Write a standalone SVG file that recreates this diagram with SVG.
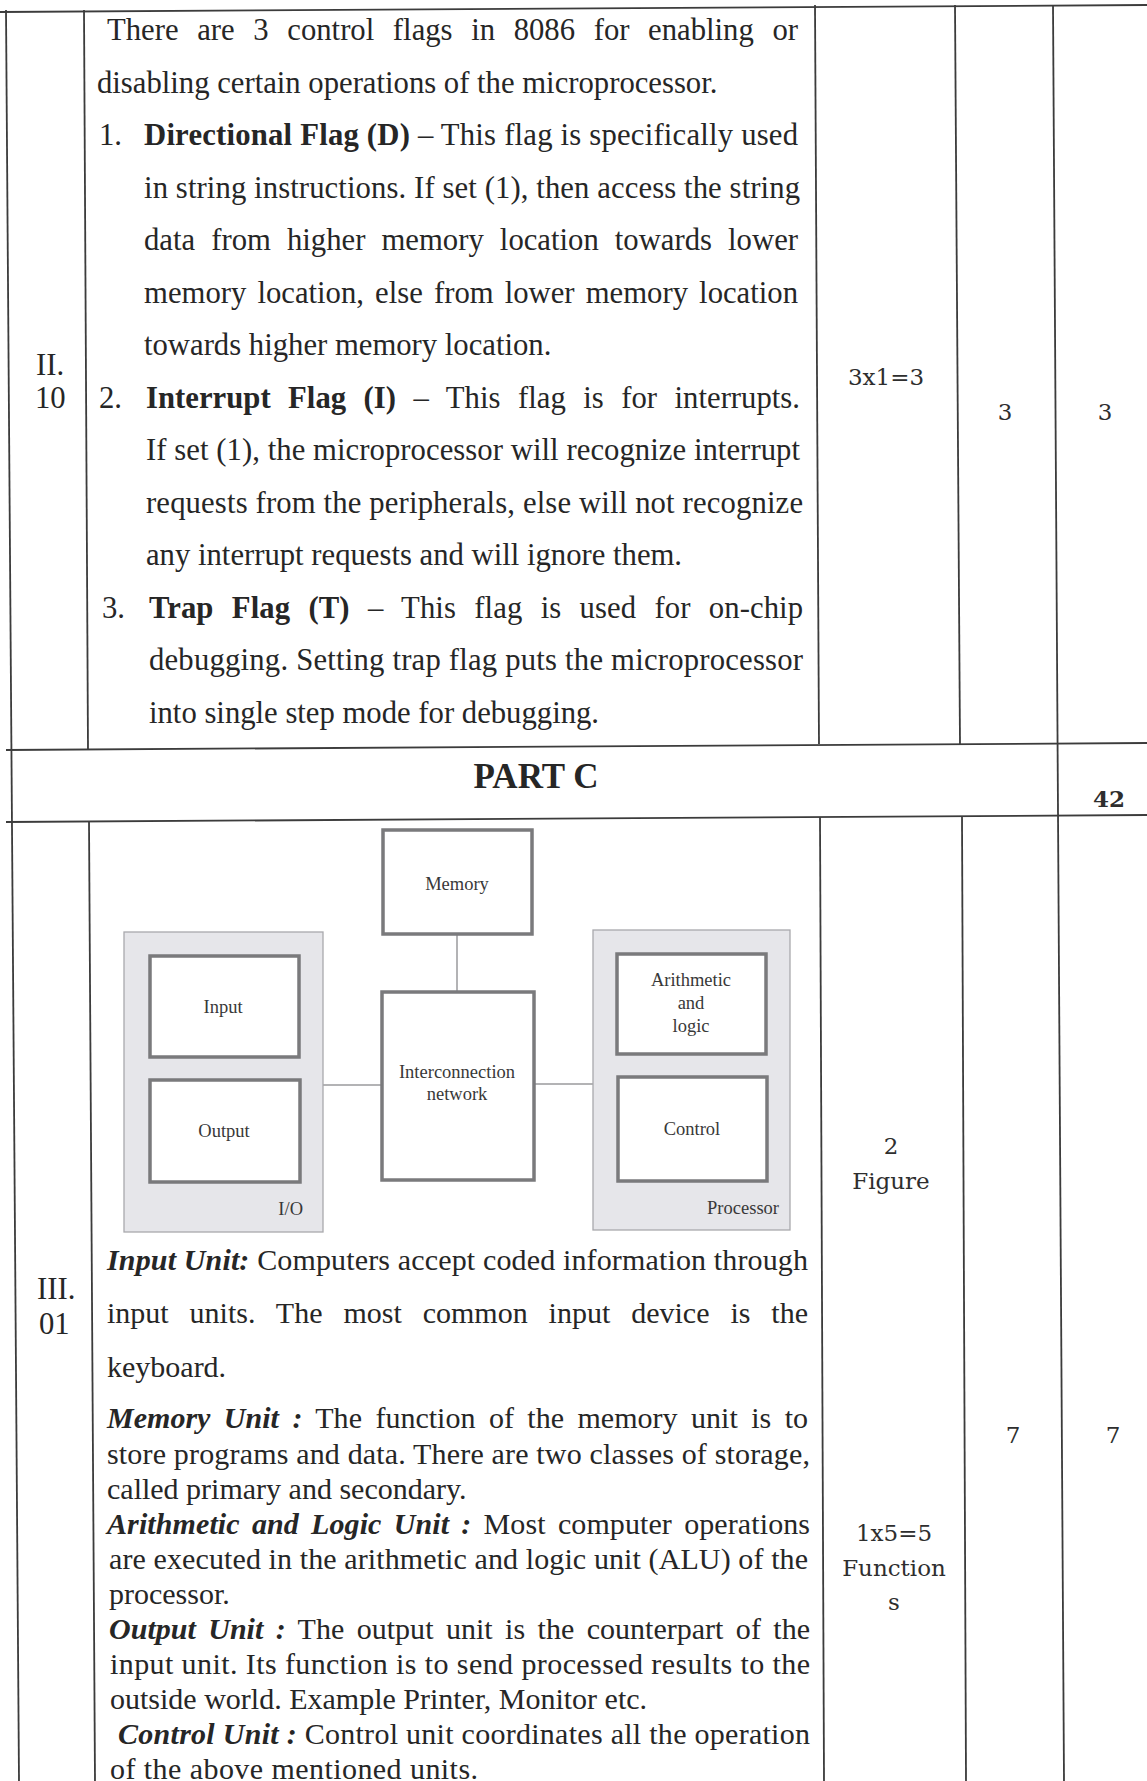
<svg xmlns="http://www.w3.org/2000/svg" width="1147" height="1781" viewBox="0 0 1147 1781">
  <style>
    .t { font-family: "Liberation Serif", "Times New Roman", serif; font-size: 30.7px; fill: #262626; }
    .t2 { font-family: "Liberation Serif", "Times New Roman", serif; font-size: 30px; fill: #262626; }
    .b { font-weight: bold; }
    .bi { font-weight: bold; font-style: italic; }
    .num { font-family: "DejaVu Serif", "Liberation Serif", serif; font-size: 23px; fill: #2e2e2e; text-anchor: middle; }
    .head { font-family: "Liberation Serif", "Times New Roman", serif; font-size: 35px; font-weight: bold; fill: #262626; text-anchor: middle; }
    .grid line { stroke: #3c3c3c; stroke-width: 1.8; }
    .panel { fill: #e6e6ea; stroke: #a9a9ad; stroke-width: 1.3; }
    .box { fill: #ffffff; stroke: #7a7a7c; stroke-width: 3.5; }
    .conn line { stroke: #9a9a9c; stroke-width: 1.5; }
    .dg { font-family: "Liberation Serif", "Times New Roman", serif; font-size: 18.5px; fill: #383838; text-anchor: middle; }
    .lbl { font-family: "Liberation Serif", "Times New Roman", serif; font-size: 18.5px; fill: #383838; text-anchor: end; }
  </style>

  <rect x="0" y="0" width="1147" height="1781" fill="#ffffff"/>

  <!-- table rules (the scanned page sits at a slight tilt) -->
  <g id="table-grid" class="grid">
    <line x1="0" y1="12" x2="1147" y2="5"/>
    <line x1="6" y1="10" x2="19" y2="1781"/>
    <line x1="84" y1="10" x2="88" y2="749"/>
    <line x1="89" y1="821" x2="95" y2="1781"/>
    <line x1="815" y1="5" x2="819" y2="744"/>
    <line x1="820" y1="817" x2="824" y2="1781"/>
    <line x1="955" y1="5" x2="960" y2="744"/>
    <line x1="962" y1="817" x2="966" y2="1781"/>
    <line x1="1053" y1="5" x2="1064" y2="1781"/>
    <line x1="6" y1="750" x2="1147" y2="743"/>
    <line x1="6" y1="822" x2="1147" y2="815"/>
  </g>

  <!-- question II.10 -->
  <g id="row-II10">
    <text class="t" x="36" y="375">II.</text>
    <text class="t" x="35" y="408">10</text>

    <text class="t" x="107" y="40" textLength="691" lengthAdjust="spacing" style="word-spacing:10.9px">There are 3 control flags in 8086 for enabling or</text>
    <text class="t" x="97" y="92.5">disabling certain operations of the microprocessor.</text>
    <text class="t" x="99" y="145">1.</text>
    <text class="t" x="144" y="145" textLength="654" lengthAdjust="spacing"><tspan class="b">Directional Flag (D)</tspan> – This flag is specifically used</text>
    <text class="t" x="144" y="197.5" textLength="656" lengthAdjust="spacing">in string instructions. If set (1), then access the string</text>
    <text class="t" x="144" y="250" textLength="654" lengthAdjust="spacing" style="word-spacing:8.4px">data from higher memory location towards lower</text>
    <text class="t" x="144" y="302.5" textLength="654" lengthAdjust="spacing" style="word-spacing:3.4px">memory location, else from lower memory location</text>
    <text class="t" x="144" y="355">towards higher memory location.</text>
    <text class="t" x="99" y="407.5">2.</text>
    <text class="t" x="146" y="407.5" textLength="654" lengthAdjust="spacing" style="word-spacing:9.8px"><tspan class="b">Interrupt Flag (I)</tspan> – This flag is for interrupts.</text>
    <text class="t" x="146" y="460" textLength="654" lengthAdjust="spacing">If set (1), the microprocessor will recognize interrupt</text>
    <text class="t" x="146" y="512.5" textLength="657" lengthAdjust="spacing">requests from the peripherals, else will not recognize</text>
    <text class="t" x="146" y="565">any interrupt requests and will ignore them.</text>
    <text class="t" x="102" y="617.5">3.</text>
    <text class="t" x="149" y="617.5" textLength="654" lengthAdjust="spacing" style="word-spacing:10.6px"><tspan class="b">Trap Flag (T)</tspan> – This flag is used for on-chip</text>
    <text class="t" x="149" y="670" textLength="654" lengthAdjust="spacing">debugging. Setting trap flag puts the microprocessor</text>
    <text class="t" x="149" y="722.5">into single step mode for debugging.</text>

    <text class="num" x="886" y="385">3x1=3</text>
    <text class="num" x="1005" y="420">3</text>
    <text class="num" x="1105" y="420">3</text>
  </g>

  <!-- section heading -->
  <g id="part-c">
    <text class="head" x="536" y="788">PART C</text>
    <text class="num" x="1109" y="807" font-weight="bold" font-size="22">42</text>
  </g>

  <!-- question III.01 marks -->
  <g id="row-III01">
    <text class="t" x="37" y="1299">III.</text>
    <text class="t" x="39" y="1334">01</text>

    <text class="num" x="891" y="1154">2</text>
    <text class="num" x="891" y="1189">Figure</text>
    <text class="num" x="1013" y="1443">7</text>
    <text class="num" x="1113" y="1443">7</text>
    <text class="num" x="894" y="1541">1x5=5</text>
    <text class="num" x="894" y="1576">Function</text>
    <text class="num" x="894" y="1610">s</text>

    <text class="t2" x="107" y="1270" textLength="701" lengthAdjust="spacing"><tspan class="bi">Input Unit:</tspan> Computers accept coded information through</text>
    <text class="t2" x="107" y="1323" textLength="701" lengthAdjust="spacing" style="word-spacing:13.4px">input units. The most common input device is the</text>
    <text class="t2" x="107" y="1377">keyboard.</text>
    <text class="t2" x="107" y="1428" textLength="701" lengthAdjust="spacing" style="word-spacing:5.9px"><tspan class="bi">Memory Unit :</tspan> The function of the memory unit is to</text>
    <text class="t2" x="107" y="1463.5" textLength="703" lengthAdjust="spacing">store programs and data. There are two classes of storage,</text>
    <text class="t2" x="107" y="1499">called primary and secondary.</text>
    <text class="t2" x="107" y="1534" textLength="703" lengthAdjust="spacing" style="word-spacing:4.6px"><tspan class="bi">Arithmetic and Logic Unit :</tspan> Most computer operations</text>
    <text class="t2" x="109" y="1569" textLength="699" lengthAdjust="spacing">are executed in the arithmetic and logic unit (ALU) of the</text>
    <text class="t2" x="109" y="1604">processor.</text>
    <text class="t2" x="109" y="1639" textLength="701" lengthAdjust="spacing" style="word-spacing:4.9px"><tspan class="bi">Output Unit :</tspan> The output unit is the counterpart of the</text>
    <text class="t2" x="110" y="1674" textLength="700" lengthAdjust="spacing">input unit. Its function is to send processed results to the</text>
    <text class="t2" x="110" y="1709">outside world. Example Printer, Monitor etc.</text>
    <text class="t2" x="118" y="1744" textLength="692" lengthAdjust="spacing"><tspan class="bi">Control Unit :</tspan> Control unit coordinates all the operation</text>
    <text class="t2" x="110" y="1779" textLength="368" lengthAdjust="spacing">of the above mentioned units.</text>
  </g>

  <!-- block diagram: memory, interconnect, I/O and processor -->
  <g id="connectors" class="conn">
    <line x1="457" y1="934" x2="457" y2="992"/>
    <line x1="323" y1="1085" x2="382" y2="1085"/>
    <line x1="534" y1="1084" x2="593" y2="1084"/>
  </g>

  <g id="node-io">
    <rect class="panel" x="124" y="932" width="199" height="300"/>
    <text class="lbl" x="303" y="1215">I/O</text>
  </g>
  <g id="node-processor">
    <rect class="panel" x="593" y="930" width="197" height="300"/>
    <text class="lbl" x="779" y="1214">Processor</text>
  </g>
  <g id="node-memory">
    <rect class="box" x="383" y="830" width="149" height="104"/>
    <text class="dg" x="457" y="890">Memory</text>
  </g>
  <g id="node-interconnect">
    <rect class="box" x="382" y="992" width="152" height="188"/>
    <text class="dg" x="457" y="1078">Interconnection</text>
    <text class="dg" x="457" y="1100">network</text>
  </g>
  <g id="node-input">
    <rect class="box" x="150" y="956" width="149" height="101"/>
    <text class="dg" x="223" y="1013">Input</text>
  </g>
  <g id="node-output">
    <rect class="box" x="150" y="1080" width="150" height="102"/>
    <text class="dg" x="224" y="1137">Output</text>
  </g>
  <g id="node-alu">
    <rect class="box" x="617" y="954" width="149" height="100"/>
    <text class="dg" x="691" y="986">Arithmetic</text>
    <text class="dg" x="691" y="1009">and</text>
    <text class="dg" x="691" y="1032">logic</text>
  </g>
  <g id="node-control">
    <rect class="box" x="618" y="1077" width="149" height="104"/>
    <text class="dg" x="692" y="1135">Control</text>
  </g>
</svg>
